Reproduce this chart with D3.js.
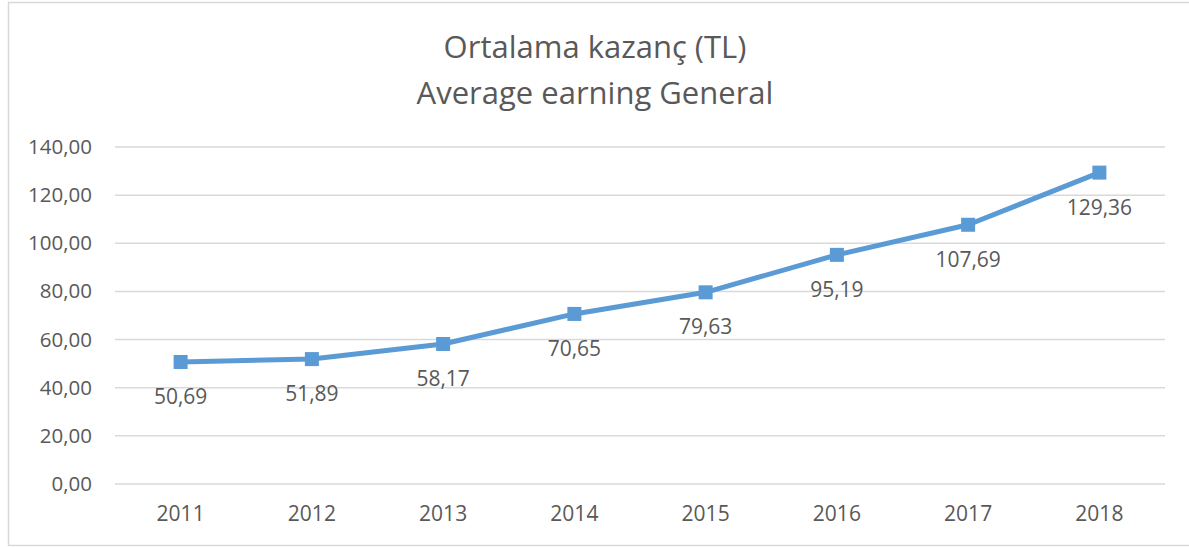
<!DOCTYPE html>
<html>
<head>
<meta charset="utf-8">
<script src="https://cdn.jsdelivr.net/npm/d3@7"></script>
<style>
  body { margin: 0; background: #fff; }
  text { font-family: "Open Sans", sans-serif; fill: #595959; }
</style>
</head>
<body>
<script>
// data
const years = ["2011", "2012", "2013", "2014", "2015", "2016", "2017", "2018"];
const earnings = [50.69, 51.89, 58.17, 70.65, 79.63, 95.19, 107.69, 129.36];
const yTicks = [0, 20, 40, 60, 80, 100, 120, 140];
const titleLines = ["Ortalama kazanç (TL)", "Average earning General"];

const W = 1189, H = 547;
const margin = { top: 147, right: 24, bottom: 63, left: 115 },
  width = W - margin.left - margin.right,
  height = H - margin.top - margin.bottom;

const root = d3.select("body").append("svg")
  .attr("width", W)
  .attr("height", H);

// chart border
root.append("rect")
  .attr("x", 8.5).attr("y", 2.5)
  .attr("width", W + 20).attr("height", 543)
  .attr("fill", "none")
  .attr("stroke", "#d9d9d9")
  .attr("stroke-width", 1.5);

// title
root.selectAll(".title")
  .data(titleLines)
  .enter()
  .append("text")
  .attr("class", "title")
  .attr("x", 595)
  .attr("y", (d, i) => 58 + i * 46)
  .attr("text-anchor", "middle")
  .style("font-size", "31px")
  .text(d => d);

const svg = root.append("g")
  .attr("transform", `translate(${margin.left},${margin.top})`);

const x = d3.scaleBand().domain(years).range([0, width]);
const y = d3.scaleLinear().domain([0, 140]).range([height, 0]);

// gridlines
svg.selectAll(".grid")
  .data(yTicks)
  .enter()
  .append("line")
  .attr("x1", 0).attr("x2", width)
  .attr("y1", d => y(d)).attr("y2", d => y(d))
  .attr("stroke", "#d9d9d9")
  .attr("stroke-width", 1.5);

// y axis
const yAxis = d3.axisLeft(y)
  .tickValues(yTicks)
  .tickSize(0)
  .tickPadding(23)
  .tickFormat(d => d3.format(".2f")(d).replace(".", ","));
svg.append("g").call(yAxis)
  .call(g => g.select(".domain").remove())
  .selectAll("text")
  .style("font-size", "20.5px")
  .attr("fill", "#595959");

// x axis
const xAxis = d3.axisBottom(x).tickSize(0).tickPadding(22);
svg.append("g")
  .attr("transform", `translate(0,${height})`)
  .call(xAxis)
  .call(g => g.select(".domain").remove())
  .selectAll("text")
  .style("font-size", "21px")
  .attr("fill", "#595959");

const pts = years.map((yr, i) => ({ year: yr, value: earnings[i] }));

// line
const line = d3.line()
  .x(d => x(d.year) + x.bandwidth() / 2)
  .y(d => y(d.value));
svg.append("path")
  .datum(pts)
  .attr("d", line)
  .attr("fill", "none")
  .attr("stroke", "#5b9bd5")
  .attr("stroke-width", 5)
  .attr("stroke-linejoin", "round");

// markers
const ms = 14;
svg.selectAll(".marker")
  .data(pts)
  .enter()
  .append("rect")
  .attr("x", d => x(d.year) + x.bandwidth() / 2 - ms / 2)
  .attr("y", d => y(d.value) - ms / 2)
  .attr("width", ms)
  .attr("height", ms)
  .attr("fill", "#5b9bd5");

// data labels
svg.selectAll(".label")
  .data(pts)
  .enter()
  .append("text")
  .attr("x", d => x(d.year) + x.bandwidth() / 2)
  .attr("y", d => y(d.value) + 42)
  .attr("text-anchor", "middle")
  .style("font-size", "21px")
  .text(d => d3.format(".2f")(d.value).replace(".", ","));
</script>
</body>
</html>
